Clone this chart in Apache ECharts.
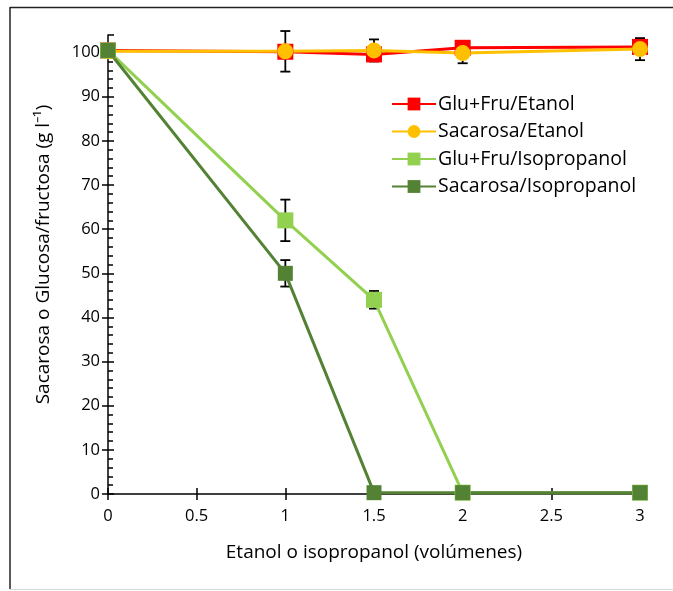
<!DOCTYPE html>
<html>
<head>
<meta charset="utf-8">
<script src="https://cdn.jsdelivr.net/npm/echarts@6/dist/echarts.min.js"></script>
<style>
  html, body { margin: 0; padding: 0; background: #fff; }
  #chart { width: 673px; height: 591px; }
</style>
</head>
<body>
<div id="chart"></div>
<script>
// Volumes of solvent added
const volumes = [0, 1, 1.5, 2, 3];

// Sugar concentration (g/l) remaining in solution
const gluFruEtanol = [100.5, 100.2, 99.6, 101.1, 101.3];
const sacEtanol = [100.3, 100.3, 100.5, 99.9, 100.8];
const gluFruIso = [100.5, 62.0, 44.0, 0.3, 0.3];
const sacIso = [100.5, 50.0, 0.3, 0.3, 0.3];

// Standard deviations (null = no error bar)
const sacEtanolErr = [null, 4.6, 2.5, 2.3, 2.5];
const gluFruIsoErr = [null, 4.7, 2.0, null, null];
const sacIsoErr = [null, 3.0, null, null, null];

const yTicks = [0, 10, 20, 30, 40, 50, 60, 70, 80, 90, 100];
const xTicks = [0, 0.5, 1, 1.5, 2, 2.5, 3];

const FONT = "'Open Sans', 'Liberation Sans', sans-serif";

function pairs(vals) {
  return volumes.map((v, i) => [v, vals[i]]);
}

function errRows(vals, errs) {
  const rows = [];
  volumes.forEach((v, i) => {
    if (errs[i] != null) rows.push([v, vals[i] - errs[i], vals[i] + errs[i]]);
  });
  return rows;
}

const errorData = []
  .concat(errRows(sacEtanol, sacEtanolErr))
  .concat(errRows(gluFruIso, gluFruIsoErr))
  .concat(errRows(sacIso, sacIsoErr));

const chart = echarts.init(document.getElementById('chart'));

const lineSeries = (name, data, color, symbol, size) => ({
  name: name,
  type: 'line',
  data: pairs(data),
  symbol: symbol,
  symbolSize: size,
  showAllSymbol: true,
  z: 3,
  lineStyle: { color: color, width: 3 },
  itemStyle: { color: color, borderWidth: 0 },
  emphasis: { disabled: true },
  animation: false
});

chart.setOption({
  animation: false,
  textStyle: { fontFamily: FONT },
  graphic: [
    { type: 'line', shape: { x1: 10, y1: 7.5, x2: 673, y2: 7.5 }, style: { stroke: '#222', lineWidth: 1.5 } },
    { type: 'line', shape: { x1: 10, y1: 7, x2: 10, y2: 589 }, style: { stroke: '#222', lineWidth: 1.5 } },
    { type: 'line', shape: { x1: 10, y1: 589.5, x2: 673, y2: 589.5 }, style: { stroke: '#d9d9d9', lineWidth: 1 } }
  ],
  grid: { left: 108, right: 33, top: 35, bottom: 97 },
  legend: {
    orient: 'vertical',
    left: 386,
    top: 89,
    itemWidth: 44,
    itemHeight: 16,
    itemGap: 7.5,
    textStyle: { color: '#000', fontSize: 19.5, fontFamily: FONT, padding: [0, 0, 0, -3] },
    data: ['Glu+Fru/Etanol', 'Sacarosa/Etanol', 'Glu+Fru/Isopropanol', 'Sacarosa/Isopropanol']
  },
  xAxis: [
    {
      type: 'value', min: 0, max: 3, interval: 0.5,
      name: 'Etanol o isopropanol (volúmenes)',
      nameLocation: 'middle', nameGap: 49,
      nameTextStyle: { color: '#000', fontSize: 19, fontFamily: FONT },
      axisLine: { show: true, onZero: false, lineStyle: { color: '#000', width: 1.5 } },
      axisTick: { show: true, inside: false, length: 6, lineStyle: { color: '#000', width: 1.5 } },
      axisLabel: { color: '#000', fontSize: 16.5, margin: 14, fontFamily: FONT,
        customValues: xTicks },
      splitLine: { show: false }
    },
    {
      type: 'value', min: 0, max: 3, interval: 0.5, position: 'bottom', offset: 0,
      axisLine: { show: false },
      axisTick: { show: true, inside: true, length: 6, lineStyle: { color: '#000', width: 1.5 } },
      axisLabel: { show: false },
      splitLine: { show: false }
    }
  ],
  yAxis: [
    {
      type: 'value', min: 0, max: 104, interval: 10,
      name: 'Sacarosa o Glucosa/fructosa (g l⁻¹)',
      nameLocation: 'middle', nameGap: 55,
      nameTextStyle: { color: '#000', fontSize: 19, fontFamily: FONT, padding: [0, 0, 0, 20] },
      axisLine: { show: true, onZero: false, lineStyle: { color: '#000', width: 1.5 } },
      axisTick: { show: true, inside: false, length: 6, customValues: yTicks,
        lineStyle: { color: '#000', width: 1.5 } },
      axisLabel: { color: '#000', fontSize: 16.5, margin: 8, fontFamily: FONT, customValues: yTicks },
      splitLine: { show: false }
    },
    {
      type: 'value', min: 0, max: 104, interval: 10, position: 'left', offset: 0,
      axisLine: { show: false },
      axisTick: { show: true, inside: true, length: 6, lineStyle: { color: '#000', width: 1.5 } },
      minorTick: { show: true, splitNumber: 5, length: 5, lineStyle: { color: '#000', width: 1.5 } },
      axisLabel: { show: false },
      splitLine: { show: false }
    }
  ],
  series: [
    {
      type: 'custom',
      name: 'errores',
      z: 2,
      silent: true,
      data: errorData,
      renderItem: function (params, api) {
        const x = api.value(0);
        const lo = api.coord([x, api.value(1)]);
        const hi = api.coord([x, api.value(2)]);
        const cap = 5;
        const st = { stroke: '#000', lineWidth: 1.8 };
        return {
          type: 'group',
          children: [
            { type: 'line', shape: { x1: lo[0], y1: lo[1], x2: hi[0], y2: hi[1] }, style: st },
            { type: 'line', shape: { x1: lo[0] - cap, y1: lo[1], x2: lo[0] + cap, y2: lo[1] }, style: st },
            { type: 'line', shape: { x1: hi[0] - cap, y1: hi[1], x2: hi[0] + cap, y2: hi[1] }, style: st }
          ]
        };
      }
    },
    lineSeries('Glu+Fru/Etanol', gluFruEtanol, '#ff0000', 'rect', 16),
    lineSeries('Sacarosa/Etanol', sacEtanol, '#ffc000', 'circle', 16),
    lineSeries('Glu+Fru/Isopropanol', gluFruIso, '#92d050', 'rect', 16),
    lineSeries('Sacarosa/Isopropanol', sacIso, '#548235', 'rect', 15)
  ]
});
</script>
</body>
</html>
